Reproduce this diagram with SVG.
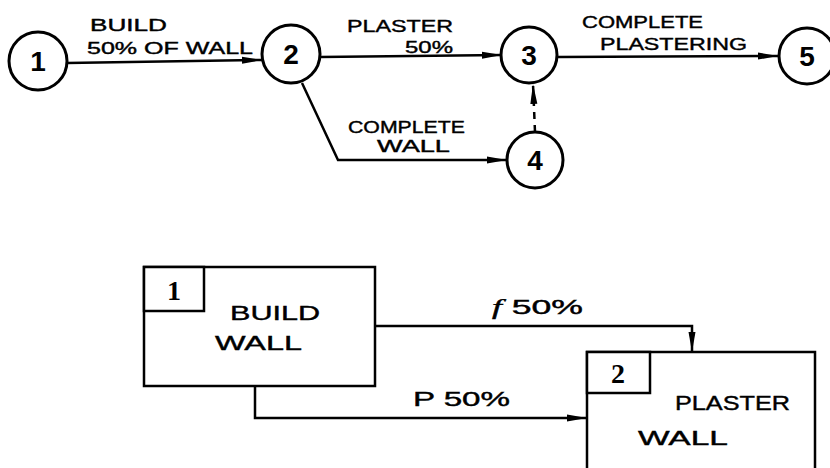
<svg xmlns="http://www.w3.org/2000/svg" width="830" height="468" viewBox="0 0 830 468">
<style>
.n{fill:#fff;stroke:#000;stroke-width:3}
.b{fill:#fff;stroke:#000;stroke-width:2.5}
.c{fill:none;stroke:#000;stroke-width:2.5}
.d{fill:none;stroke:#000;stroke-width:2.5;stroke-dasharray:7 6}
.t{font-family:"Liberation Sans",Arial,sans-serif;font-size:17px;fill:#000;stroke:#000;stroke-width:0.4}
.bt{font-family:"Liberation Sans",Arial,sans-serif;font-size:20px;fill:#000;stroke:#000;stroke-width:0.4}
.num{font-family:"Liberation Sans",Arial,sans-serif;font-size:28px;font-weight:bold;fill:#000;text-anchor:middle}
.sn{font-family:"Liberation Serif","Times New Roman",serif;font-size:28px;font-weight:bold;fill:#000;text-anchor:middle}
</style>
<defs>
<marker id="ah" markerUnits="userSpaceOnUse" markerWidth="20" markerHeight="10" refX="20" refY="5" orient="auto">
<path d="M0,1.5 L20,5 L0,8.5 Z" fill="#000"/>
</marker>
</defs>
<g id="connectors">
<path class="c" d="M67,63 L262,60" marker-end="url(#ah)"/>
<path class="c" d="M320,57 L502,55" marker-end="url(#ah)"/>
<path class="c" d="M558,57 L778,56" marker-end="url(#ah)"/>
<path class="c" d="M302,83 L338,160 L507,160" marker-end="url(#ah)"/>
<path class="d" d="M535,132 L533,84" marker-end="url(#ah)"/>
<path class="c" d="M375,326 L692,326 L692,352" marker-end="url(#ah)"/>
<path class="c" d="M255,386 L255,418 L587,418" marker-end="url(#ah)"/>
</g>
<g id="node1"><circle class="n" cx="38" cy="61" r="29"/><text class="num" x="38" y="71">1</text></g>
<g id="node2"><circle class="n" cx="291" cy="54" r="29"/><text class="num" x="291" y="64">2</text></g>
<g id="node3"><circle class="n" cx="529" cy="55" r="28"/><text class="num" x="529" y="65">3</text></g>
<g id="node4"><circle class="n" cx="535" cy="160" r="28"/><text class="num" x="535" y="170">4</text></g>
<g id="node5"><circle class="n" cx="807" cy="56" r="28"/><text class="num" x="807" y="66">5</text></g>
<g id="labels">
<text class="t" x="90" y="31" textLength="77" lengthAdjust="spacingAndGlyphs">BUILD</text>
<text class="t" x="87" y="54" textLength="166" lengthAdjust="spacingAndGlyphs">50% OF WALL</text>
<text class="t" x="347" y="32" textLength="106" lengthAdjust="spacingAndGlyphs">PLASTER</text>
<text class="t" x="405" y="53" textLength="48" lengthAdjust="spacingAndGlyphs">50%</text>
<text class="t" x="582" y="28" textLength="121" lengthAdjust="spacingAndGlyphs">COMPLETE</text>
<text class="t" x="600" y="50" textLength="147" lengthAdjust="spacingAndGlyphs">PLASTERING</text>
<text class="t" x="348" y="133" textLength="117" lengthAdjust="spacingAndGlyphs">COMPLETE</text>
<text class="t" x="377" y="152" textLength="73" lengthAdjust="spacingAndGlyphs">WALL</text>
<text class="bt" x="492" y="314" textLength="91" lengthAdjust="spacingAndGlyphs"><tspan font-family="Liberation Serif,serif" font-style="italic">f</tspan> 50%</text>
<text class="bt" x="413" y="406" textLength="97" lengthAdjust="spacingAndGlyphs">P 50%</text>
</g>
<g id="box1">
<rect class="b" x="144" y="267" width="231" height="119"/>
<rect class="b" x="144" y="267" width="60" height="44"/>
<text class="sn" x="174" y="300">1</text>
<text class="bt" x="230" y="320" textLength="90" lengthAdjust="spacingAndGlyphs">BUILD</text>
<text class="bt" x="215" y="350" textLength="87" lengthAdjust="spacingAndGlyphs">WALL</text>
</g>
<g id="box2">
<rect class="b" x="587" y="352" width="228" height="130"/>
<rect class="b" x="587" y="352" width="63" height="41"/>
<text class="sn" x="618" y="383">2</text>
<text class="bt" x="675" y="410" textLength="115" lengthAdjust="spacingAndGlyphs">PLASTER</text>
<text class="bt" x="638" y="445" textLength="90" lengthAdjust="spacingAndGlyphs">WALL</text>
</g>
</svg>
